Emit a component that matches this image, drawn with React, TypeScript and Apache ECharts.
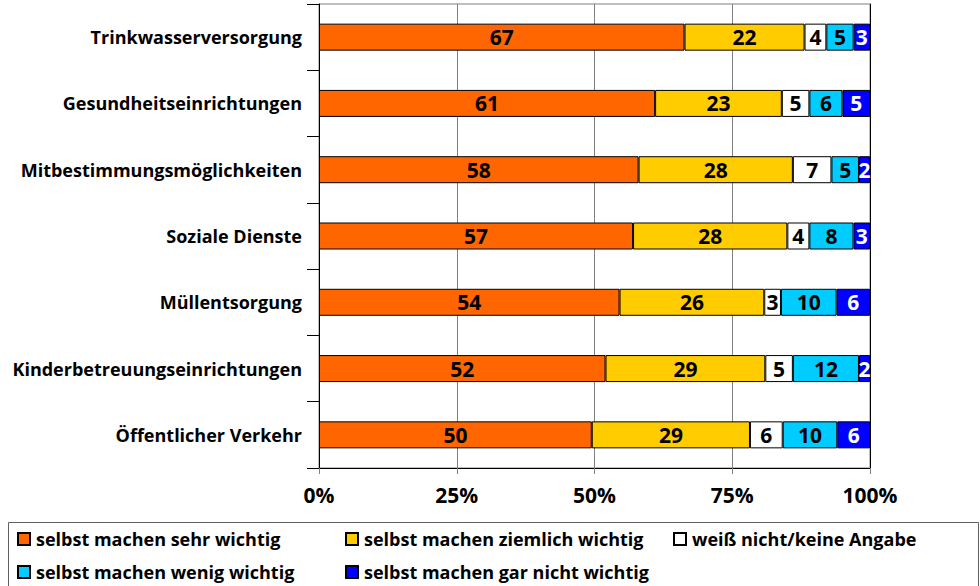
import React, { useEffect, useRef } from "react";
import * as echarts from "echarts";

const categories = [
  "Trinkwasserversorgung",
  "Gesundheitseinrichtungen",
  "Mitbestimmungsmöglichkeiten",
  "Soziale Dienste",
  "Müllentsorgung",
  "Kinderbetreuungseinrichtungen",
  "Öffentlicher Verkehr",
];

const seriesNames = [
  "selbst machen sehr wichtig",
  "selbst machen ziemlich wichtig",
  "weiß nicht/keine Angabe",
  "selbst machen wenig wichtig",
  "selbst machen gar nicht wichtig",
];

const sehrWichtig = [67, 61, 58, 57, 54, 52, 50];
const ziemlichWichtig = [22, 23, 28, 28, 26, 29, 29];
const weissNicht = [4, 5, 7, 4, 3, 5, 6];
const wenigWichtig = [5, 6, 5, 8, 10, 12, 10];
const garNichtWichtig = [3, 5, 2, 3, 6, 2, 6];

const tickLabels = ["0%", "25%", "50%", "75%", "100%"];

const colors = ["#FF6600", "#FFCC00", "#FFFFFF", "#00CCFF", "#0000FF"];
const labelColors = ["#000", "#000", "#000", "#000", "#fff"];

const FONT = "'Open Sans', 'Noto Sans', sans-serif";

export default function App() {
  const ref = useRef<HTMLDivElement>(null);
  useEffect(() => {
    if (!ref.current) return;
    const chart = echarts.init(ref.current, undefined, { renderer: "svg" });
    const raw = [sehrWichtig, ziemlichWichtig, weissNicht, wenigWichtig, garNichtWichtig];
    const sums = categories.map((_, i) => raw.reduce((a, s) => a + s[i], 0));

    const legendPos = [
      { left: 17, top: 530 },
      { left: 345, top: 530 },
      { left: 673, top: 530 },
      { left: 17, top: 563 },
      { left: 345, top: 563 },
    ];

    chart.setOption({
      animation: false,
      textStyle: { fontFamily: FONT },
      grid: {
        left: 319,
        right: 110,
        top: 4,
        bottom: 118,
        show: true,
        borderColor: "#808080",
        borderWidth: 1,
      },
      xAxis: {
        type: "value",
        min: 0,
        max: 100,
        interval: 25,
        axisLine: { show: true, lineStyle: { color: "#000", width: 1 } },
        axisTick: { show: true, length: 6, lineStyle: { color: "#808080" } },
        splitLine: { show: true, lineStyle: { color: "#808080", width: 1 } },
        axisLabel: {
          margin: 16,
          fontSize: 21,
          fontWeight: "bold",
          color: "#000",
          fontFamily: FONT,
          formatter: (v: number) => tickLabels[Math.round(v / 25)],
        },
      },
      yAxis: [
        {
          type: "category",
          data: categories,
          inverse: true,
          axisLine: { show: true, lineStyle: { color: "#000", width: 1 } },
          axisTick: { show: true, length: 12, lineStyle: { color: "#000" } },
          axisLabel: {
            margin: 17,
            fontSize: 18,
            fontWeight: "bold",
            color: "#000",
            fontFamily: FONT,
          },
        },
        {
          type: "category",
          data: categories,
          inverse: true,
          position: "right",
          axisLine: { show: true, lineStyle: { color: "#000", width: 1 } },
          axisTick: { show: false },
          axisLabel: { show: false },
        },
      ],
      legend: seriesNames.map((n, i) => ({
        data: [n],
        left: legendPos[i].left,
        top: legendPos[i].top,
        itemWidth: 12,
        itemHeight: 12,
        itemGap: 0,
        icon: "rect",
        padding: 0,
        selectedMode: false,
        textStyle: {
          fontSize: 18,
          fontWeight: "bold",
          color: "#000",
          fontFamily: FONT,
          padding: [0, 0, 0, 1],
        },
      })),
      graphic: [
        {
          type: "rect",
          shape: { x: 8.5, y: 522.5, width: 970, height: 80 },
          style: { fill: "none", stroke: "#606060", lineWidth: 1 },
          z: 0,
        },
      ],
      series: raw.map((vals, si) => ({
        name: seriesNames[si],
        type: "bar",
        stack: "total",
        barWidth: 27,
        data: vals.map((v, i) => ({ value: (v / sums[i]) * 100, raw: v })),
        itemStyle: { color: colors[si], borderColor: "#000", borderWidth: 1 },
        label: {
          show: true,
          position: "inside",
          fontSize: 21,
          fontWeight: "bold",
          color: labelColors[si],
          fontFamily: FONT,
          formatter: (p: any) => String(p.data.raw),
        },
      })),
    });
    return () => chart.dispose();
  }, []);
  return (
    <div
      ref={ref}
      style={{ position: "absolute", left: 0, top: 0, width: 980, height: 586 }}
    />
  );
}
